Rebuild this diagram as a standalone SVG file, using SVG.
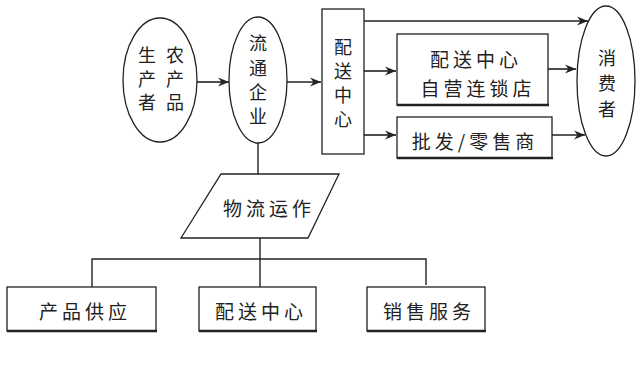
<svg xmlns="http://www.w3.org/2000/svg" width="640" height="379" viewBox="0 0 640 379">
<style>
.shape{fill:#fff;stroke:#222;stroke-width:1.3}
.edge{stroke:#222;stroke-width:1.4;fill:none}
.arr{stroke:#222;stroke-width:1.6;fill:none;marker-end:url(#ah)}
.sh{stroke:#222;stroke-width:2.4}
text{font-family:"Noto Sans CJK SC","Noto Sans",sans-serif;font-size:19px;fill:#222;text-anchor:middle;dominant-baseline:central}
.sp{letter-spacing:4px}
.v{writing-mode:vertical-rl;text-orientation:upright;font-size:18px}
</style>
<defs>
<marker id="ah" markerWidth="12" markerHeight="10" refX="11" refY="5" orient="auto" markerUnits="userSpaceOnUse">
<path d="M0,0.5 L11,5 L0,9.5 L3.5,5 Z" fill="#222"/>
</marker>
</defs>
<rect width="640" height="379" fill="#fff"/>
<g id="connectors">
<line class="arr" x1="197" y1="82" x2="229" y2="82"/>
<line class="arr" x1="287" y1="82" x2="321" y2="82"/>
<line class="arr" x1="364" y1="21" x2="588" y2="21"/>
<line class="arr" x1="364" y1="71" x2="396" y2="71"/>
<line class="arr" x1="548" y1="69" x2="576" y2="69"/>
<line class="arr" x1="364" y1="135" x2="396" y2="135"/>
<line class="arr" x1="552" y1="135" x2="585" y2="135"/>
<line class="edge" x1="258" y1="143" x2="258" y2="174"/>
<line class="edge" x1="260" y1="238" x2="260" y2="259"/>
<polyline class="edge" points="92,287 92,259 426,259 426,285"/>
<line class="edge" x1="260" y1="259" x2="260" y2="287"/>
</g>
<g id="producer">
<ellipse class="shape" cx="160" cy="80" rx="37" ry="62"/>
<text class="v" x="175" y="81.5" style="letter-spacing:5.5px">农产品</text>
<text class="v" x="147" y="81.5" style="letter-spacing:5.5px">生产者</text>
</g>
<g id="circulation">
<ellipse class="shape" cx="258" cy="80" rx="29" ry="63"/>
<text class="v" x="258" y="83" style="letter-spacing:6.3px">流通企业</text>
</g>
<g id="dc-tall">
<rect class="shape" x="322" y="9" width="42" height="145"/>
<text class="v" x="343" y="86" style="letter-spacing:6px">配送中心</text>
</g>
<g id="chain">
<rect class="shape" x="397" y="34" width="151" height="71"/>
<line class="sh" x1="397" y1="105" x2="549" y2="105"/>
<text class="sp" x="476" y="58">配送中心</text>
<text class="sp" x="478" y="87">自营连锁店</text>
</g>
<g id="wholesale">
<rect class="shape" x="397" y="117" width="155" height="41"/>
<line class="sh" x1="397" y1="158" x2="553" y2="158"/>
<text class="sp" x="475" y="140">批发/零售商</text>
</g>
<g id="consumer">
<ellipse class="shape" cx="606" cy="81" rx="29" ry="75"/>
<text class="v" x="607" y="87" style="letter-spacing:7.5px">消费者</text>
</g>
<g id="logistics">
<polygon class="shape" points="221,174 339,174 308,238 181,238"/>
<text class="sp" x="269" y="207">物流运作</text>
</g>
<g id="supply">
<rect class="shape" x="7" y="287" width="149" height="44"/>
<line class="sh" x1="7" y1="331" x2="157" y2="331"/>
<text class="sp" x="85" y="310">产品供应</text>
</g>
<g id="dc-bottom">
<rect class="shape" x="199" y="287" width="117" height="44"/>
<line class="sh" x1="199" y1="331" x2="317" y2="331"/>
<text class="sp" x="261" y="310">配送中心</text>
</g>
<g id="sales">
<rect class="shape" x="367" y="287" width="118" height="44"/>
<line class="sh" x1="367" y1="331" x2="486" y2="331"/>
<text class="sp" x="429" y="310">销售服务</text>
</g>
</svg>
